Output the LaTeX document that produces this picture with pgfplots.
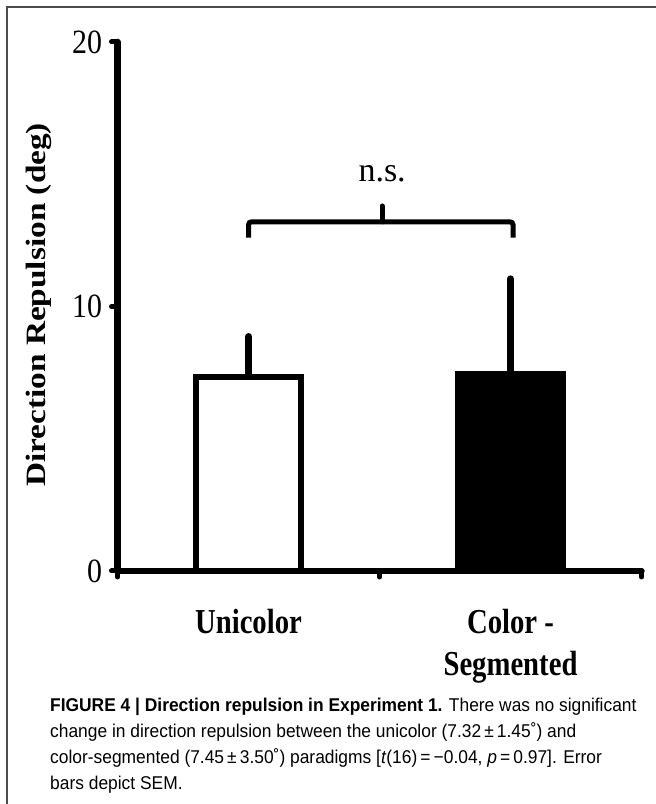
\documentclass[border=0pt]{standalone}
\usepackage{fontspec}
\setmainfont{Liberation Serif}
\newfontfamily\tickfont[FakeStretch=0.88]{Liberation Serif}
\newfontfamily\xlabfont[FakeStretch=0.82]{Liberation Serif}
\newfontfamily\ylabfont[FakeStretch=1.19]{Liberation Serif}
\newfontfamily\capfont[FakeStretch=0.94]{Liberation Sans}
\usepackage{pgfplots}
\pgfplotsset{compat=1.18}
\begin{document}
\begin{tikzpicture}[x=1pt,y=1pt]
\path[use as bounding box] (0,0) rectangle (656,804);
\draw[line width=1.5pt, black!70] (7,0) -- (7,797) -- (656,797);
\begin{axis}[
  at={(117.5pt,233pt)}, anchor=south west,
  scale only axis, width=524pt, height=529pt,
  xmin=0, xmax=2, ymin=0, ymax=20,
  axis x line*=bottom, axis y line*=left,
  axis line style={line width=6.5pt, -, line cap=round},
  tick align=outside, major tick length=6pt,
  tick style={line width=5pt, black, line cap=round},
  xtick={0,1,2}, xticklabels={},
  extra x ticks={0.5,1.5},
  extra x tick labels={Unicolor,{Color -\\Segmented}},
  extra x tick style={major tick length=0pt, tick style={draw=none},
     xticklabel style={align=center, font=\xlabfont\bfseries\fontsize{35}{42}\selectfont, yshift=-35pt}},
  ytick={0,10,20},
  yticklabel style={font=\tickfont\fontsize{34}{34}\selectfont, xshift=-6pt},
  /pgf/number format/assume math mode=true,
  ylabel={Direction Repulsion (deg)},
  ylabel style={font=\ylabfont\bfseries\fontsize{28}{28}\selectfont, at={(axis description cs:-0.1365,0.503)}, anchor=base},
  ybar, bar width=0.4,
  clip=false,
]
\addplot[bar shift=0pt, fill=white, draw=black, line width=6pt,
  error bars/.cd, y dir=plus, y explicit,
  error bar style={line width=7pt, black},
  error mark options={line width=7pt, mark size=2.5pt, line cap=round, black}]
  coordinates {(0.5,7.32) +- (0,1.45)};
\addplot[bar shift=0pt, fill=black, draw=black, line width=6pt,
  error bars/.cd, y dir=plus, y explicit,
  error bar style={line width=7pt, black},
  error mark options={line width=7pt, mark size=2.5pt, line cap=round, black}]
  coordinates {(1.5,7.45) +- (0,3.50)};
\draw[line width=5pt, rounded corners=3pt] (axis cs:0.5,12.6) -- (axis cs:0.5,13.2) -- (axis cs:1.51,13.2) -- (axis cs:1.51,12.6);
\draw[line width=5pt, line cap=round] (axis cs:1.01,13.2) -- (axis cs:1.01,13.8);
\node[anchor=base, font=\fontsize{34}{34}\selectfont] at (axis cs:1.01,14.72) {n.s.};
\end{axis}
\begin{scope}[font=\capfont\fontsize{18.5}{18.5}\selectfont]
\node[anchor=base west, inner sep=0pt] at (50,92) {\textbf{FIGURE 4 | Direction repulsion in Experiment 1.} There was no significant};
\node[anchor=base west, inner sep=0pt] at (50,66) {change in direction repulsion between the unicolor (7.32\,±\,1.45˚) and};
\node[anchor=base west, inner sep=0pt] at (50,41) {color-segmented (7.45\,±\,3.50˚) paradigms [\textit{t}(16)\,=\,−0.04, \textit{p}\,=\,0.97]. Error};
\node[anchor=base west, inner sep=0pt] at (50,15) {bars depict SEM.};
\end{scope}
\end{tikzpicture}
\end{document}
